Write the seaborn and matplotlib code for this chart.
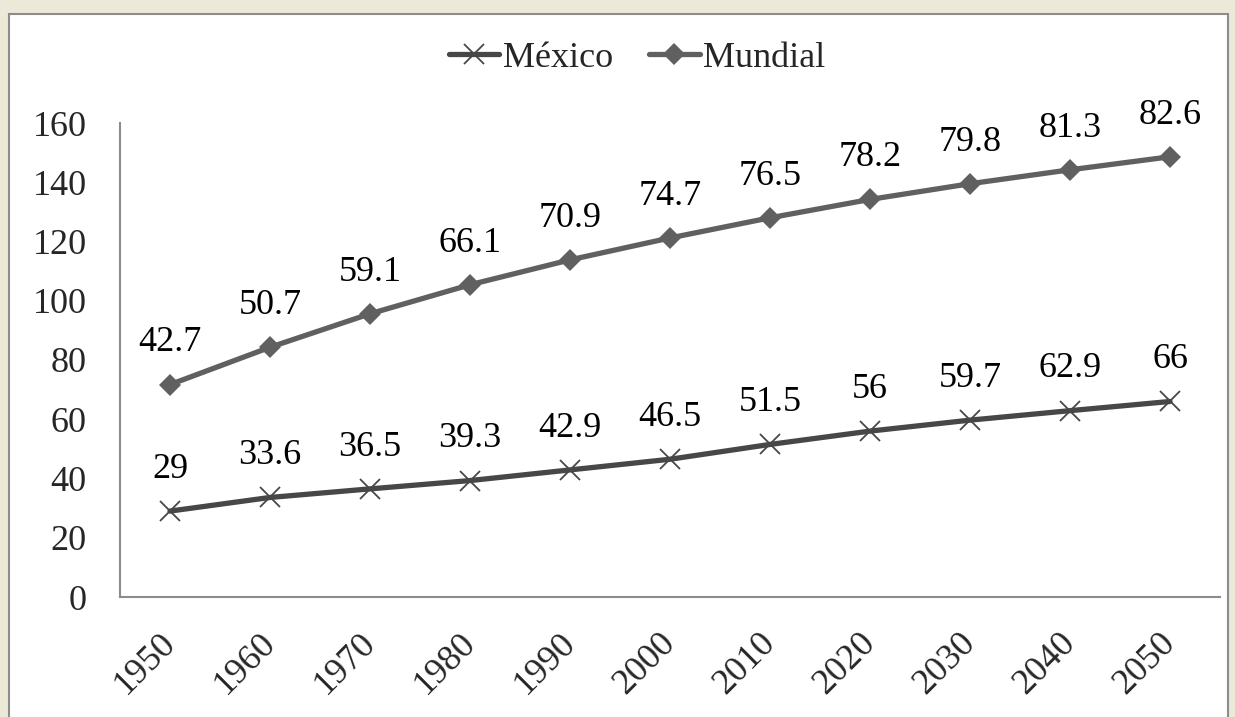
import matplotlib
matplotlib.use('Agg')
import matplotlib.pyplot as plt
import matplotlib.patches as mpatches
import matplotlib.transforms as mtransforms
import seaborn as sns
import pandas as pd

# valores (linea apilada: Mundial se dibuja encima de Mexico)
years = ['1950', '1960', '1970', '1980', '1990', '2000', '2010', '2020', '2030', '2040', '2050']
mexico = [29, 33.6, 36.5, 39.3, 42.9, 46.5, 51.5, 56, 59.7, 62.9, 66]
mundial = [42.7, 50.7, 59.1, 66.1, 70.9, 74.7, 76.5, 78.2, 79.8, 81.3, 82.6]
mexico_labels = ['29', '33.6', '36.5', '39.3', '42.9', '46.5', '51.5', '56', '59.7', '62.9', '66']
mundial_labels = ['42.7', '50.7', '59.1', '66.1', '70.9', '74.7', '76.5', '78.2', '79.8', '81.3', '82.6']

sns.set_style('white')
plt.rcParams['font.family'] = ['Liberation Serif', 'DejaVu Serif']
fs = 26

df = pd.DataFrame({'Año': years, 'México': mexico, 'Mundial': mundial})
df['pos'] = range(len(df))
df['Mundial_apilado'] = df['México'] + df['Mundial']

fig = plt.figure(figsize=(12.35, 7.17), dpi=100)
fig.patch.set_facecolor('#ECE9D8')
# recuadro blanco del area del grafico
fig.patches.append(mpatches.Rectangle((9 / 1235, -0.01), 1219 / 1235, 1 - 14 / 717 + 0.01,
                                      transform=fig.transFigure, facecolor='white',
                                      edgecolor='#8c8c8c', linewidth=1.5, zorder=-1))

ax = fig.add_axes([120 / 1235, 1 - 597 / 717, 1100 / 1235, 474 / 717])
ax.set_facecolor('none')

col_mex = '#474747'
col_mun = '#606060'

sns.lineplot(data=df, x='pos', y='México', ax=ax, color=col_mex, linewidth=3.8,
             marker='x', markersize=14, markeredgewidth=1.3, markeredgecolor=col_mex,
             label='México')
sns.lineplot(data=df, x='pos', y='Mundial_apilado', ax=ax, color=col_mun, linewidth=3.8,
             marker='D', markersize=11, markeredgewidth=0, label='Mundial')

# etiquetas de datos
for i in range(len(df)):
    ax.annotate(mexico_labels[i], (df['pos'][i], df['México'][i]), xytext=(0, 30),
                textcoords='offset points', ha='center', va='center', fontsize=fs, color='black')
    ax.annotate(mundial_labels[i], (df['pos'][i], df['Mundial_apilado'][i]), xytext=(0, 30),
                textcoords='offset points', ha='center', va='center', fontsize=fs, color='black')

ax.set_xlim(-0.5, len(years) - 0.5)
ax.set_ylim(0, 160)
ax.set_yticks(range(0, 161, 20))
ax.set_xticks(df['pos'])
ax.set_xticklabels(years, rotation=45, ha='right', rotation_mode='anchor')
ax.tick_params(axis='y', length=0, pad=24, labelsize=fs)
ax.tick_params(axis='x', length=0, pad=21, labelsize=fs)
shift = mtransforms.ScaledTranslation(-11 / 100, 0, fig.dpi_scale_trans)
for lbl in ax.get_xticklabels():
    lbl.set_transform(lbl.get_transform() + shift)
ax.set_xlabel('')
ax.set_ylabel('')

for s in ['top', 'right']:
    ax.spines[s].set_visible(False)
for s in ['left', 'bottom']:
    ax.spines[s].set_color('#8c8c8c')
    ax.spines[s].set_linewidth(1.5)

ax.legend(loc='center', bbox_to_anchor=(637 / 1235, 1 - 58 / 717), bbox_transform=fig.transFigure,
          ncol=2, frameon=False, fontsize=fs, handlelength=1.4, handletextpad=0.1,
          columnspacing=1.0)

fig.savefig('out.png', dpi=100, facecolor=fig.get_facecolor())
